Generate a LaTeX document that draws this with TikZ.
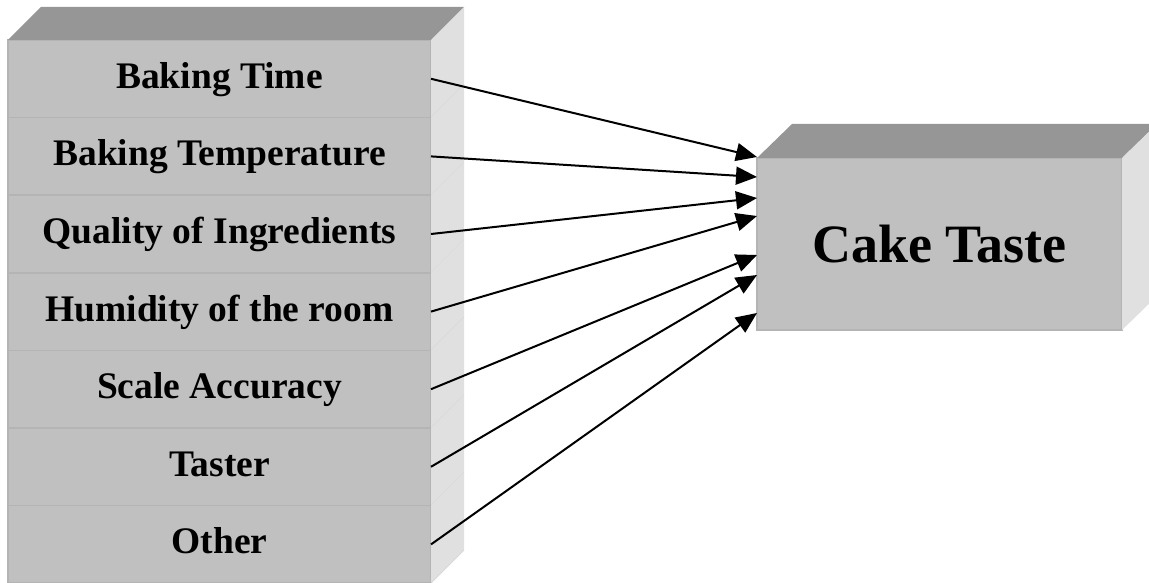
\documentclass[tikz,border=0pt]{standalone}
\usepackage{fontspec}
\setmainfont{Liberation Serif}
\usetikzlibrary{positioning,arrows.meta}
\definecolor{facefront}{HTML}{C0C0C0}
\definecolor{facetop}{HTML}{969696}
\definecolor{faceside}{HTML}{E0E0E0}
\definecolor{faceedge}{HTML}{B4B4B4}
\definecolor{faceline}{HTML}{D2D2D2}

\begin{document}
\begin{tikzpicture}[x=1pt, y=-1pt,
      nodes={
        fill=facefront, draw=faceedge, line width=1.5pt,
        inner sep=0pt, outer sep=0pt
      },
      factor/.style={minimum width=423pt, minimum height=77.6pt,
        text height=27pt, text depth=8pt,
        font=\bfseries\fontsize{37.5}{44}\selectfont},
      target/.style={minimum width=365pt, minimum height=172pt,
        font=\bfseries\fontsize{54}{62}\selectfont},
      line width=2pt, >={Triangle[length=21pt,width=18pt]}
      ]

      \clip (0,0) rectangle (1149,583);
      \useasboundingbox (0,0) rectangle (1149,583);

      \node[factor, anchor=north west] at (8,40) (f1) {Baking Time};
      \node[factor, below=0pt of f1] (f2) {Baking Temperature};
      \node[factor, below=0pt of f2] (f3) {Quality of Ingredients};
      \node[factor, below=0pt of f3] (f4) {Humidity of the room};
      \node[factor, below=0pt of f4] (f5) {Scale Accuracy};
      \node[factor, below=0pt of f5] (f6) {Taster};
      \node[factor, below=0pt of f6] (f7) {Other};

      \node[target] at (939.5,244) (y) {Cake Taste};

  % 3d faces of the stack
 \fill[facetop] (f1.north west) -- ++(33,-33) -- ([shift={(33,-33)}]f1.north east)
   -- (f1.north east) -- cycle;
 \foreach \i in {1,...,7}{
   \fill[faceside] (f\i.north east) -- ++(33,-33) -- ([shift={(33,-33)}]f\i.south east)
     -- (f\i.south east) -- cycle;
   \draw[faceline, line width=0.6pt] (f\i.south east) -- ++(33,-33);
 }

  % 3d faces of the taste box
 \fill[facetop] (y.north west) -- ++(35,-34) -- ([shift={(35,-34)}]y.north east)
   -- (y.north east) -- cycle;
 \fill[faceside] (y.north east) -- ++(35,-34) -- ([shift={(35,-34)}]y.south east)
   -- (y.south east) -- cycle;

  % Connect the nodes
 \foreach \i/\d in {1/1,2/-19,3/-40,4/-58,5/-97,6/-117,7/-155}
   \draw[->] (f\i.east) -- ([yshift=\d pt]y.north west);

\end{tikzpicture}
\end{document}
